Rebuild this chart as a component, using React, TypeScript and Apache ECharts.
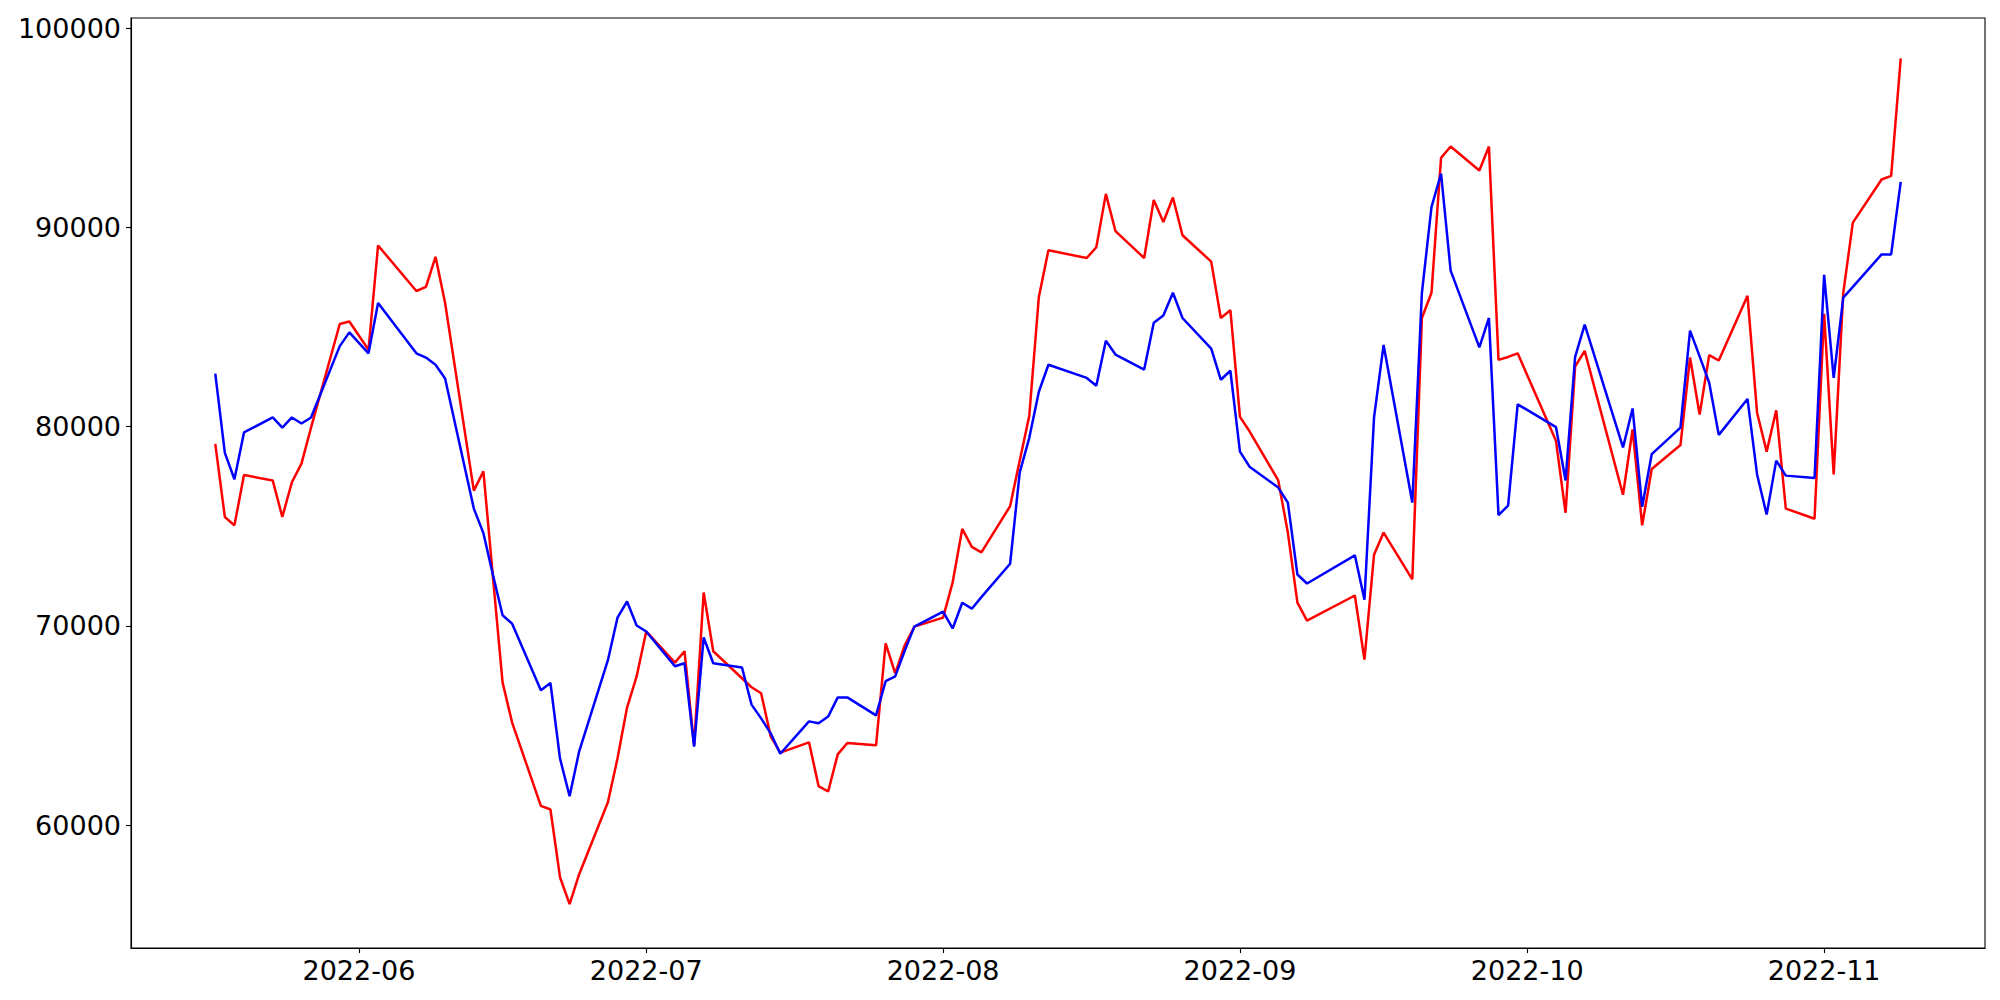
import React, { useEffect, useRef } from "react";
import * as echarts from "echarts";

// Trading days (Korean market calendar), grouped by month
const dates: string[] = [
  "2022-05-17", "2022-05-18", "2022-05-19", "2022-05-20", "2022-05-23", "2022-05-24", "2022-05-25", "2022-05-26", "2022-05-27", "2022-05-30", "2022-05-31",
  "2022-06-02", "2022-06-03", "2022-06-07", "2022-06-08", "2022-06-09", "2022-06-10", "2022-06-13", "2022-06-14", "2022-06-15", "2022-06-16", "2022-06-17", "2022-06-20", "2022-06-21", "2022-06-22", "2022-06-23", "2022-06-24", "2022-06-27", "2022-06-28", "2022-06-29", "2022-06-30",
  "2022-07-01", "2022-07-04", "2022-07-05", "2022-07-06", "2022-07-07", "2022-07-08", "2022-07-11", "2022-07-12", "2022-07-13", "2022-07-14", "2022-07-15", "2022-07-18", "2022-07-19", "2022-07-20", "2022-07-21", "2022-07-22", "2022-07-25", "2022-07-26", "2022-07-27", "2022-07-28", "2022-07-29",
  "2022-08-01", "2022-08-02", "2022-08-03", "2022-08-04", "2022-08-05", "2022-08-08", "2022-08-09", "2022-08-10", "2022-08-11", "2022-08-12", "2022-08-16", "2022-08-17", "2022-08-18", "2022-08-19", "2022-08-22", "2022-08-23", "2022-08-24", "2022-08-25", "2022-08-26", "2022-08-29", "2022-08-30", "2022-08-31",
  "2022-09-01", "2022-09-02", "2022-09-05", "2022-09-06", "2022-09-07", "2022-09-08", "2022-09-13", "2022-09-14", "2022-09-15", "2022-09-16", "2022-09-19", "2022-09-20", "2022-09-21", "2022-09-22", "2022-09-23", "2022-09-26", "2022-09-27", "2022-09-28", "2022-09-29", "2022-09-30",
  "2022-10-04", "2022-10-05", "2022-10-06", "2022-10-07", "2022-10-11", "2022-10-12", "2022-10-13", "2022-10-14", "2022-10-17", "2022-10-18", "2022-10-19", "2022-10-20", "2022-10-21", "2022-10-24", "2022-10-25", "2022-10-26", "2022-10-27", "2022-10-28", "2022-10-31",
  "2022-11-01", "2022-11-02", "2022-11-03", "2022-11-04", "2022-11-07", "2022-11-08", "2022-11-09",
];

const redValues: number[] = [
  79139, 75470, 75049, 77575, 77305, 75470, 77214, 78147, 79950, 85155, 85276,
  83862, 89096, 86810, 87020, 88524, 86208, 76793, 77756, 72430, 67168, 65152, 60971, 60791, 57392, 56038, 57542, 61152, 63348, 65905, 67469,
  69725, 68161, 68733, 64010, 71681, 68733, 67377, 66926, 66625, 64460, 63648, 64160, 61964, 61693, 63558, 64130, 64010, 69123, 67619, 69033, 69966,
  70417, 72191, 74869, 73966, 73696, 76012, 78297, 80554, 86510, 88855, 88464, 89006, 91683, 89818, 88464, 91382, 90269, 91502, 89607, 88284, 85456, 85847,
  80493, 79771, 77305, 74688, 71168, 70266, 71529, 68311, 73574, 74688, 72342, 85456, 86720, 93488, 94059, 92856, 94059, 83351, 83501, 83682,
  79290, 75680, 83020, 83802, 76583, 79862, 75049, 77876, 79079, 83471, 80614, 83591, 83321, 86569, 80704, 78748, 80824, 75891, 75380,
  85667, 77606, 86720, 90239, 92405, 92585, 98481,
];

const blueValues: number[] = [
  82659, 78688, 77365, 79711, 80463, 79952, 80463, 80162, 80463, 84043, 84734,
  83682, 86208, 83682, 83471, 83110, 82418, 75891, 74658, 72552, 70537, 70116, 66777, 67138, 63348, 61453, 63709, 68281, 70417, 71228, 70025,
  69725, 67980, 68130, 63949, 69423, 68130, 67919, 66054, 65362, 64610, 63588, 65212, 65122, 65453, 66416, 66416, 65513, 67228, 67469, 68762, 69966,
  70717, 69875, 71168, 70868, 71450, 73123, 77695, 79440, 81756, 83110, 82448, 82057, 84313, 83621, 82869, 85216, 85577, 86720, 85456, 83922, 82358, 82809,
  78748, 77996, 76944, 76192, 72582, 72131, 73545, 71319, 80463, 84103, 76192, 86720, 91021, 92705, 87832, 83982, 85456, 75560, 76041, 81124,
  79982, 77305, 83501, 85125, 78958, 80914, 75981, 78628, 79952, 84824, 83531, 82208, 79590, 81395, 77605, 75590, 78297, 77545, 77425,
  87622, 82448, 86479, 87020, 88645, 88645, 92285,
];

const monthTicks: string[] = ["2022-06-01", "2022-07-01", "2022-08-01", "2022-09-01", "2022-10-01", "2022-11-01"];
const yTicks: number[] = [60000, 70000, 80000, 90000, 100000];

const toTs = (s: string): number => {
  const [y, m, d] = s.split("-").map(Number);
  return Date.UTC(y, m - 1, d);
};

export default function App() {
  const ref = useRef<HTMLDivElement>(null);

  useEffect(() => {
    if (!ref.current) return;
    const chart = echarts.init(ref.current, undefined, { renderer: "svg" });
    const ts = dates.map(toTs);
    const first = ts[0];
    const last = ts[ts.length - 1];
    const pad = (last - first) * 0.05;
    const font = { fontFamily: "DejaVu Sans", fontSize: 27, color: "#000" };
    const xTickVals = monthTicks.map(toTs);

    chart.setOption({
      animation: false,
      backgroundColor: "#fff",
      grid: {
        left: 131,
        right: 15,
        top: 18,
        bottom: 52,
        show: true,
        borderColor: "#000",
        borderWidth: 1.1,
        backgroundColor: "transparent",
      },
      xAxis: {
        type: "value",
        min: first - pad,
        max: last + pad,
        scale: true,
        splitLine: { show: false },
        axisLine: { show: true, onZero: false, lineStyle: { color: "#000", width: 1.1 } },
        axisTick: {
          show: true,
          length: 5,
          lineStyle: { color: "#000", width: 1.1 },
          customValues: xTickVals,
        },
        axisLabel: {
          ...font,
          margin: 9,
          customValues: xTickVals,
          formatter: (v: number) => {
            const d = new Date(v);
            const m = d.getUTCMonth() + 1;
            return `${d.getUTCFullYear()}-${m < 10 ? "0" + m : m}`;
          },
        },
      },
      yAxis: {
        type: "value",
        min: 53840,
        max: 100510,
        scale: true,
        splitLine: { show: false },
        axisLine: { show: true, onZero: false, lineStyle: { color: "#000", width: 1.1 } },
        axisTick: {
          show: true,
          length: 5,
          lineStyle: { color: "#000", width: 1.1 },
          customValues: yTicks,
        },
        axisLabel: {
          ...font,
          margin: 10,
          customValues: yTicks,
          formatter: (v: number) => String(v),
        },
      },
      series: [
        {
          type: "line",
          data: ts.map((t, i) => [t, redValues[i]]),
          showSymbol: false,
          symbol: "none",
          lineStyle: { color: "#ff0000", width: 2.5 },
          itemStyle: { color: "#ff0000" },
        },
        {
          type: "line",
          data: ts.map((t, i) => [t, blueValues[i]]),
          showSymbol: false,
          symbol: "none",
          lineStyle: { color: "#0000ff", width: 2.5 },
          itemStyle: { color: "#0000ff" },
        },
      ],
    });

    return () => chart.dispose();
  }, []);

  return (
    <div
      ref={ref}
      style={{ position: "fixed", left: 0, top: 0, width: 2000, height: 1000, background: "#fff" }}
    />
  );
}
